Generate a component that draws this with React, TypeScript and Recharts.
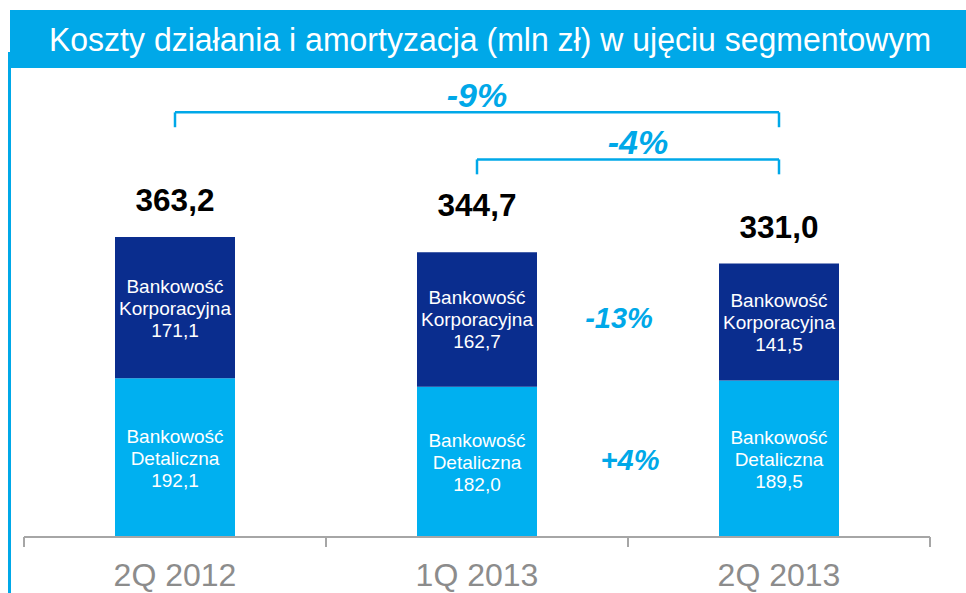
import React from 'react';
import { ComposedChart, Bar, XAxis, YAxis, LabelList, ReferenceLine } from 'recharts';

const categories = ['2Q 2012', '1Q 2013', '2Q 2013'];
const detaliczna = [192.1, 182.0, 189.5];
const korporacyjna = [171.1, 162.7, 141.5];
const totals = [363.2, 344.7, 331.0];
const detName = ['Bankowość', 'Detaliczna'];
const korpName = ['Bankowość', 'Korporacyjna'];
const title = 'Koszty działania i amortyzacja (mln zł) w ujęciu segmentowym';

// bracket annotations: from, to, level (value units), label
const bracketFrom = ['2Q 2012', '1Q 2013'];
const bracketTo = ['2Q 2013', '2Q 2013'];
const bracketLevel = [514, 457];
const bracketLabel = ['-9%', '-4%'];
// segment change annotations between 1Q 2013 and 2Q 2013
const changeLevel = [263, 93];
const changeLabel = ['-13%', '+4%'];

const data = categories.map((cat, i) => ({
  cat,
  det: detaliczna[i],
  korp: korporacyjna[i],
  total: totals[i],
}));

const FONT = '"Liberation Sans", Arial, sans-serif';
const LIGHT = '#00B0F0';
const DARK = '#0A2D8E';
const ACCENT = '#00A8E8';
const GRAY = '#8C8C8C';

const W = 966;
const H = 593;
const M_LEFT = 24;
const M_RIGHT = 36;
const HALF_BAND = (W - M_LEFT - M_RIGHT) / categories.length / 2;
const TOTAL_LIFT = [26, 36, 26];
const BRACKET_DX = [0, 10];
const CHANGE_DX = [-9, 2];

const fmt = (v: number) => v.toFixed(1).replace('.', ',');

const segmentLabel = (names: string[]) => (p: any) => {
  const cx = Number(p.x) + Number(p.width) / 2;
  const cy = Number(p.y) + Number(p.height) / 2;
  const lines = [...names, fmt(Number(p.value))];
  return (
    <g>
      {lines.map((t, i) => (
        <text
          key={i}
          x={cx}
          y={cy + (i - 1) * 22 + 7}
          textAnchor="middle"
          fill="#FFFFFF"
          fontFamily={FONT}
          fontSize={19}
        >
          {t}
        </text>
      ))}
    </g>
  );
};

const totalLabel = (p: any) => {
  const cx = Number(p.x) + Number(p.width) / 2;
  const idx = Number(p.index) || 0;
  return (
    <text
      x={cx}
      y={Number(p.y) - (TOTAL_LIFT[idx] ?? 26)}
      textAnchor="middle"
      fill="#000000"
      fontFamily={FONT}
      fontSize={31.5}
      fontWeight="bold"
    >
      {fmt(Number(p.value))}
    </text>
  );
};

const pctLabel = (text: string, size: number, dy: number, dx: number) => (p: any) => {
  const vb = p.viewBox || {};
  const cx = Number(vb.x) + Number(vb.width || 0) / 2 + dx;
  const y = Number(vb.y) + dy;
  return (
    <text
      x={cx}
      y={y}
      textAnchor="middle"
      fill={ACCENT}
      fontFamily={FONT}
      fontSize={size}
      fontWeight="bold"
      fontStyle="italic"
    >
      {text}
    </text>
  );
};

const XTick = (p: any) => {
  const x = Number(p.x);
  const y = Number(p.y);
  return (
    <g>
      <line x1={x - HALF_BAND} x2={x - HALF_BAND} y1={y} y2={y + 10} stroke="#A6A6A6" strokeWidth={2} />
      <line x1={x + HALF_BAND} x2={x + HALF_BAND} y1={y} y2={y + 10} stroke="#A6A6A6" strokeWidth={2} />
      <text x={x} y={y + 49} textAnchor="middle" fill={GRAY} fontFamily={FONT} fontSize={32}>
        {p.payload.value}
      </text>
    </g>
  );
};

export default function App() {
  return (
    <div style={{ position: 'absolute', left: 0, top: 0, width: W, height: H, background: '#fff', overflow: 'hidden' }}>
      <ComposedChart
        width={W}
        height={H}
        data={data}
        margin={{ top: 0, right: M_RIGHT, bottom: 0, left: M_LEFT }}
        barCategoryGap={0}
      >
        <XAxis
          dataKey="cat"
          height={56}
          axisLine={{ stroke: '#A6A6A6', strokeWidth: 2 }}
          tickLine={false}
          tickSize={0}
          tickMargin={0}
          tick={<XTick />}
          interval={0}
        />
        <YAxis hide domain={[0, 650]} />
        <Bar dataKey="det" stackId="a" fill={LIGHT} barSize={120} isAnimationActive={false}>
          <LabelList dataKey="det" content={segmentLabel(detName)} />
        </Bar>
        <Bar dataKey="korp" stackId="a" fill={DARK} barSize={120} isAnimationActive={false}>
          <LabelList dataKey="korp" content={segmentLabel(korpName)} />
          <LabelList dataKey="total" content={totalLabel} />
        </Bar>
        {bracketLevel.map((lv, i) => (
          <ReferenceLine
            key={`bh${i}`}
            segment={[
              { x: bracketFrom[i], y: lv },
              { x: bracketTo[i], y: lv },
            ]}
            stroke={ACCENT}
            strokeWidth={2.5}
            label={pctLabel(bracketLabel[i], 34, -5, BRACKET_DX[i])}
          />
        ))}
        {bracketLevel.map((lv, i) => (
          <ReferenceLine
            key={`bl${i}`}
            segment={[
              { x: bracketFrom[i], y: lv },
              { x: bracketFrom[i], y: lv - 18 },
            ]}
            stroke={ACCENT}
            strokeWidth={2.5}
          />
        ))}
        {bracketLevel.map((lv, i) => (
          <ReferenceLine
            key={`br${i}`}
            segment={[
              { x: bracketTo[i], y: lv },
              { x: bracketTo[i], y: lv - 18 },
            ]}
            stroke={ACCENT}
            strokeWidth={2.5}
          />
        ))}
        {changeLevel.map((lv, i) => (
          <ReferenceLine
            key={`c${i}`}
            segment={[
              { x: '1Q 2013', y: lv },
              { x: '2Q 2013', y: lv },
            ]}
            stroke="none"
            strokeWidth={0}
            label={pctLabel(changeLabel[i], 29, i === 0 ? 8 : 10, CHANGE_DX[i])}
          />
        ))}
      </ComposedChart>
      <div style={{ position: 'absolute', left: 8, top: 52, width: 3, height: H - 52, background: ACCENT }} />
      <div
        style={{
          position: 'absolute',
          left: 10,
          top: 10,
          width: W - 10,
          height: 58,
          background: ACCENT,
          color: '#fff',
          fontFamily: FONT,
          fontSize: 32,
          lineHeight: '58px',
          textAlign: 'center',
          whiteSpace: 'nowrap',
        }}
      >
        <span style={{ display: 'inline-block', transform: 'scale(1, 1.06)', marginLeft: 4 }}>{title}</span>
      </div>
    </div>
  );
}
